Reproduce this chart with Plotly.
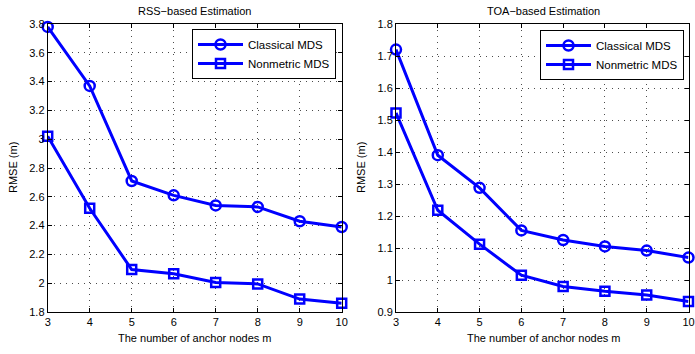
import plotly.graph_objects as go

anchors = [3, 4, 5, 6, 7, 8, 9, 10]
rss_classical = [3.78, 3.37, 2.71, 2.61, 2.54, 2.53, 2.43, 2.39]
rss_nonmetric = [3.02, 2.52, 2.095, 2.065, 2.005, 1.995, 1.89, 1.86]
toa_classical = [1.72, 1.39, 1.288, 1.155, 1.125, 1.105, 1.092, 1.07]
toa_nonmetric = [1.522, 1.218, 1.112, 1.015, 0.98, 0.965, 0.953, 0.933]

W, H = 695, 354
FONT = "Liberation Sans, Arial, Helvetica, sans-serif"
BLUE = "#0000ff"

fig = go.Figure()

def add_pair(xa, ya, legend, c, n):
    fig.add_trace(go.Scatter(x=anchors, y=c, mode="lines+markers", name="Classical MDS",
                             xaxis=xa, yaxis=ya, legend=legend, cliponaxis=False,
                             line=dict(color=BLUE, width=3),
                             marker=dict(symbol="circle-open", size=10, color=BLUE, line=dict(width=2.5, color=BLUE))))
    fig.add_trace(go.Scatter(x=anchors, y=n, mode="lines+markers", name="Nonmetric MDS",
                             xaxis=xa, yaxis=ya, legend=legend, cliponaxis=False,
                             line=dict(color=BLUE, width=3),
                             marker=dict(symbol="square-open", size=9, color=BLUE, line=dict(width=2.5, color=BLUE))))

add_pair("x", "y", "legend", rss_classical, rss_nonmetric)
add_pair("x2", "y2", "legend2", toa_classical, toa_nonmetric)

def px_x(p):
    return p / W

def px_y(p):
    return 1 - p / H

axis_common = dict(showline=True, linecolor="black", linewidth=1, mirror="ticks",
                   ticks="inside", ticklen=4, tickcolor="black", tickwidth=1,
                   showgrid=True, gridcolor="rgba(0,0,0,0.7)", gridwidth=1, griddash="1px,5px",
                   zeroline=False, automargin=False, ticklabeloverflow="allow",
                   tickfont=dict(family=FONT, size=11, color="black"))

ydom = [px_y(312), px_y(24)]
fig.update_layout(
    width=W, height=H, margin=dict(l=0, r=0, t=0, b=0, autoexpand=False),
    paper_bgcolor="white", plot_bgcolor="white",
    font=dict(family=FONT, size=11, color="black"),
    xaxis=dict(domain=[px_x(47.7), px_x(341.7)], range=[3, 10], dtick=1, anchor="y", **axis_common),
    yaxis=dict(domain=ydom, range=[1.8, 3.8], dtick=0.2, anchor="x", **axis_common),
    xaxis2=dict(domain=[px_x(396), px_x(688.5)], range=[3, 10], dtick=1, anchor="y2", **axis_common),
    yaxis2=dict(domain=ydom, range=[0.9, 1.8], dtick=0.1, anchor="x2", **axis_common),
    legend=dict(x=px_x(336), y=px_y(29), xanchor="right", yanchor="top",
                bordercolor="black", borderwidth=1, bgcolor="white",
                font=dict(family=FONT, size=11.5), tracegroupgap=0, itemwidth=45),
    legend2=dict(x=px_x(684), y=px_y(30), xanchor="right", yanchor="top",
                 bordercolor="black", borderwidth=1, bgcolor="white",
                 font=dict(family=FONT, size=11.5), tracegroupgap=0, itemwidth=45),
    showlegend=True,
)

def ann(text, x, y, angle=0):
    return dict(text=text, x=px_x(x), y=px_y(y), xref="paper", yref="paper",
                xanchor="center", yanchor="middle", textangle=angle,
                showarrow=False, font=dict(family=FONT, size=11, color="black"))

anns = [
    ann("RSS\u2212based Estimation", 194.7, 11),
    ann("TOA\u2212based Estimation", 543, 11),
    ann("The number of anchor nodes m", 194.7, 338),
    ann("The number of anchor nodes m", 543, 338),
    ann("RMSE (m)", 13, 168, -90),
    ann("RMSE (m)", 361, 168, -90),
]
fig.update_layout(annotations=anns)

# remove the default 8px page margin so the figure fills the window exactly
fig.write_html("out.html", config={"displayModeBar": False},
               post_script="document.body.style.margin='0px';")
